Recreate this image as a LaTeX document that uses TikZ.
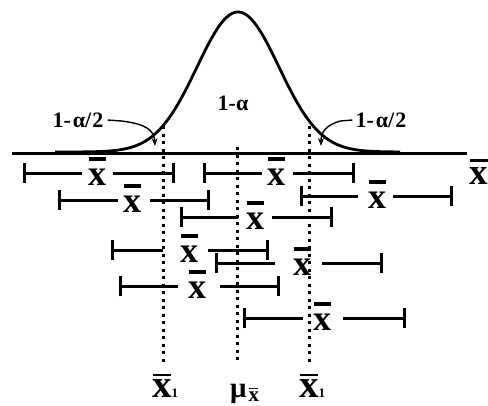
\documentclass[tikz,border=0pt]{standalone}
\usepackage{fontspec}
\setmainfont{Liberation Serif}
\usetikzlibrary{arrows.meta}
% x with a bar above: #1 font size, #2 bar width, #3 bar thickness, #4 gap
\newcommand\xbarsym[4]{\vbox{\offinterlineskip\halign{\hfil##\hfil\cr\vrule width #2 height #3 depth 0pt\cr\noalign{\kern #4}\fontsize{#1}{#1}\selectfont\bfseries x\cr}}}
\newcommand\civl[7]{%
  \coordinate (#7l) at (#2,#1);
  \coordinate (#7a) at (#3,#1);
  \coordinate (#7b) at (#4,#1);
  \coordinate (#7r) at (#5,#1);
  \draw[civ,{Bar[width=20pt]}-] (#7l) -- (#7a);
  \draw[civ,-{Bar[width=20pt]}] (#7b) -- (#7r);
  \node[xlab] (#7x) at (#6,#1-1.5) {\xbarsym{36}{17pt}{4pt}{8pt}};}
\begin{document}
\begin{tikzpicture}[x=1pt,y=-1pt,
  civ/.style={line width=3pt},
  xlab/.style={inner sep=0pt,font=\bfseries},
  txt/.style={inner sep=0pt,font=\bfseries\fontsize{22}{22}\selectfont},
  curve/.style={line width=2.8pt,line join=round},
  axisline/.style={line width=3pt},
  dots/.style={line width=3pt,dash pattern=on 3pt off 4.5pt},
  lead/.style={line width=1.4pt,-{Stealth[length=8pt,width=6pt]}}]
\useasboundingbox (0,0) rectangle (488,405);
% axis
\coordinate (ax0) at (12,153);
\coordinate (ax1) at (467,153);
\draw[axisline] (ax0) -- (ax1);
\node[xlab] (axl) at (479,172) {\xbarsym{37}{18pt}{2.2pt}{6pt}};
% normal curve
\draw[curve] plot[domain=55:400,samples=140,smooth] (\x,{152-140*exp(-0.5*((\x-238)/41)^2)});
% dotted lines
\coordinate (dl0) at (163,126); \coordinate (dl1) at (163,363);
\coordinate (dm0) at (237,147); \coordinate (dm1) at (237,363);
\coordinate (dr0) at (309,126); \coordinate (dr1) at (309,363);
\draw[dots] (dl0) -- (dl1);
\draw[dots] (dm0) -- (dm1);
\draw[dots] (dr0) -- (dr1);
% labels on the curve
\node[txt] (ca) at (233,103) {1-α};
\node[txt] (lal) at (78,120) {1-\hspace{2pt}α/\hspace{1pt}2};
\node[txt] (ral) at (381,120) {1-\hspace{2pt}α/\hspace{1pt}2};
\coordinate (lat) at (155,146);
\coordinate (rat) at (321,146);
\draw[lead] ([xshift=4pt]lal.east) -- ++(14,1) .. controls (146,124) and (154,130) .. (lat);
\draw[lead] ([xshift=-3pt]ral.west) -- ++(-12,1) .. controls (326,125) and (321,132) .. (rat);
% confidence intervals
\civl{173}{23}{82}{113}{175}{97}{i1}
\civl{173}{203}{262}{293}{355}{276}{i2}
\civl{200}{58}{118}{150}{210}{132}{i3}
\civl{196}{300}{358}{393}{453}{377}{i4}
\civl{217}{180}{238}{272}{333}{255}{i5}
\civl{250}{111}{163}{208}{269}{189}{i6}
\civl{263}{215}{275}{322}{383}{302}{i7}
\civl{286}{119}{178}{220}{280}{197}{i8}
\civl{318}{243}{303}{343}{406}{322}{i9}
% bottom labels
\node[xlab,anchor=base west] (bl) at (152,397) {\xbarsym{39}{18pt}{2.5pt}{3pt}\fontsize{13}{13}\selectfont 1};
\node[xlab,anchor=base west] (bm) at (230,397) {\fontsize{29}{29}\selectfont μ\kern2pt\raisebox{-4pt}{\xbarsym{21}{9pt}{1.8pt}{2pt}}};
\node[xlab,anchor=base west] (br) at (299,397) {\xbarsym{39}{18pt}{2.5pt}{3pt}\fontsize{13}{13}\selectfont 1};
\end{tikzpicture}
\end{document}
